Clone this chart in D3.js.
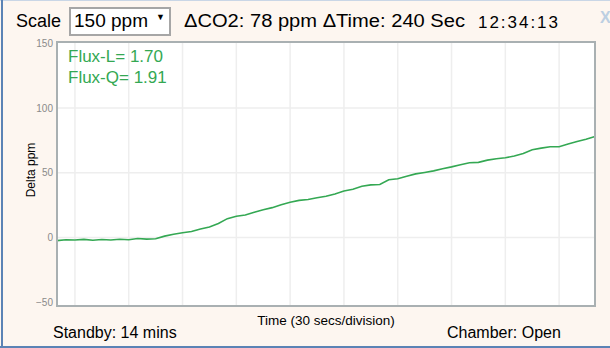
<!DOCTYPE html>
<html>
<head>
<meta charset="utf-8">
<script src="https://cdn.jsdelivr.net/npm/d3@7"></script>
<style>
  body { margin: 0; background: #fff; }
  svg { display: block; font-family: Arial, "Liberation Sans", sans-serif; }
</style>
</head>
<body>
<svg width="610" height="348"></svg>
<script>
// seconds from start of the trace
var secs = [-10, -5, 0, 5, 10, 15, 20, 25, 30, 35, 40, 45, 50, 55, 60, 65, 70, 75, 80, 85,
	90, 95, 100, 105, 110, 115, 120, 125, 130, 135, 140, 145, 150, 155, 160, 165, 170, 175,
	180, 185, 190, 195, 200, 205, 210, 215, 220, 225, 230, 235, 240, 245, 250, 255, 260,
	265, 270, 275, 280, 285, 290];
// delta CO2 (ppm)
var delta = [-2.5, -1.8, -2.0, -1.5, -2.2, -1.6, -2.0, -1.4, -1.8, -0.9, -1.3, -1.0, 1.0, 2.5,
	3.6, 4.6, 6.5, 8.1, 10.8, 14.5, 16.4, 17.3, 19.4, 21.4, 23.0, 25.2, 27.2, 28.6, 29.3, 30.6,
	31.8, 33.6, 35.8, 37.2, 39.5, 40.6, 40.9, 44.6, 45.3, 47.3, 49.1, 50.2, 51.4, 53.1, 54.5,
	56.1, 57.7, 58.0, 59.7, 60.8, 61.6, 62.9, 64.9, 67.8, 69.0, 70.1, 70.1, 72.2, 74.1, 75.8, 77.9];
var yTicks = [-50, 0, 50, 100, 150];
var xGrid = [0, 30, 60, 90, 120, 150, 180, 210, 240, 270];
var fluxLabels = ['Flux-L= 1.70', 'Flux-Q= 1.91'];

var svg = d3.select('svg');
var green = '#34a853';

// panel background + frame
svg.append('rect').attr('width', 610).attr('height', 348).attr('fill', '#fdf6f0');
svg.append('line').attr('x1', 0).attr('x2', 610).attr('y1', 0.5).attr('y2', 0.5).attr('stroke', '#c9d6e6');
svg.append('line').attr('x1', 2).attr('x2', 2).attr('y1', 0).attr('y2', 348).attr('stroke', '#5b83b5').attr('stroke-width', 2);
svg.append('line').attr('x1', 0).attr('x2', 610).attr('y1', 347).attr('y2', 347).attr('stroke', '#5b83b5').attr('stroke-width', 2);

// header (spans fitted to the reference)
function headText(tx, x, w, size) {
	return svg.append('text').attr('x', x).attr('y', 27).attr('font-size', size)
		.attr('textLength', w).attr('lengthAdjust', 'spacingAndGlyphs').text(tx);
}
headText('Scale', 16, 45, 18);
svg.append('rect').attr('x', 70).attr('y', 8).attr('width', 100).attr('height', 27)
	.attr('fill', '#fff').attr('stroke', '#a6a6a6').attr('stroke-width', 2);
headText('150 ppm', 74, 74, 18);
svg.append('text').attr('x', 156).attr('y', 20).attr('font-size', 9).text('▼');
headText('ΔCO2: 78 ppm ΔTime: 240 Sec', 184, 281, 18);
headText('12:34:13', 478, 80, 17).attr('y', 28).attr('lengthAdjust', 'spacing');
svg.append('text').attr('x', 600).attr('y', 23).attr('font-size', 16).attr('font-weight', 'bold')
	.attr('fill', '#bccfe2').text('X');

var pLeft = 57, pRight = 595, pTop = 42, pBottom = 306;

var x = d3.scaleLinear().domain([-10, 290]).range([pLeft, pRight]);
var y = d3.scaleLinear().domain([-53, 151]).range([pBottom, pTop]);

svg.append('rect').attr('x', pLeft).attr('y', pTop).attr('width', pRight - pLeft).attr('height', pBottom - pTop)
	.attr('fill', '#fff');

var grid = svg.append('g').attr('stroke', '#eeeeee').attr('stroke-width', 1.5);
grid.selectAll('.vx').data(xGrid).join('line')
	.attr('x1', d => x(d)).attr('x2', d => x(d)).attr('y1', pTop).attr('y2', pBottom);
grid.selectAll('.hy').data(yTicks.slice(1, 4)).join('line')
	.attr('x1', pLeft).attr('x2', pRight).attr('y1', d => y(d)).attr('y2', d => y(d));

// y axis labels
var yAxis = d3.axisLeft(y).tickValues(yTicks).tickSize(0).tickPadding(4);
svg.append('g').attr('transform', `translate(${pLeft},0)`).call(g => {
	g.call(yAxis);
	g.select('.domain').remove();
	g.selectAll('.tick text').attr('fill', '#8a8a8a').attr('font-size', 10)
		.attr('font-family', 'Arial, "Liberation Sans", sans-serif');
});

// trace
var line = d3.line().x((d, i) => x(secs[i])).y(d => y(d));
svg.append('path').datum(delta).attr('d', line)
	.attr('fill', 'none').attr('stroke', green).attr('stroke-width', 1.6);

svg.append('rect').attr('x', pLeft).attr('y', pTop).attr('width', pRight - pLeft).attr('height', pBottom - pTop)
	.attr('fill', 'none').attr('stroke', '#a9b0b2').attr('stroke-width', 2);

svg.selectAll('.flux').data(fluxLabels).join('text')
	.attr('x', 68).attr('y', (d, i) => 62 + i * 21).attr('font-size', 17).attr('fill', green).text(d => d);

// axis titles and footer
svg.append('text').attr('transform', 'translate(35,170) rotate(-90)').attr('text-anchor', 'middle')
	.attr('font-size', 12).text('Delta ppm');
svg.append('text').attr('x', 326).attr('y', 325).attr('text-anchor', 'middle').attr('font-size', 13.5)
	.text('Time (30 secs/division)');
svg.append('text').attr('x', 53).attr('y', 338).attr('font-size', 16).text('Standby: 14 mins');
svg.append('text').attr('x', 447).attr('y', 338).attr('font-size', 16).text('Chamber: Open');
</script>
</body>
</html>
